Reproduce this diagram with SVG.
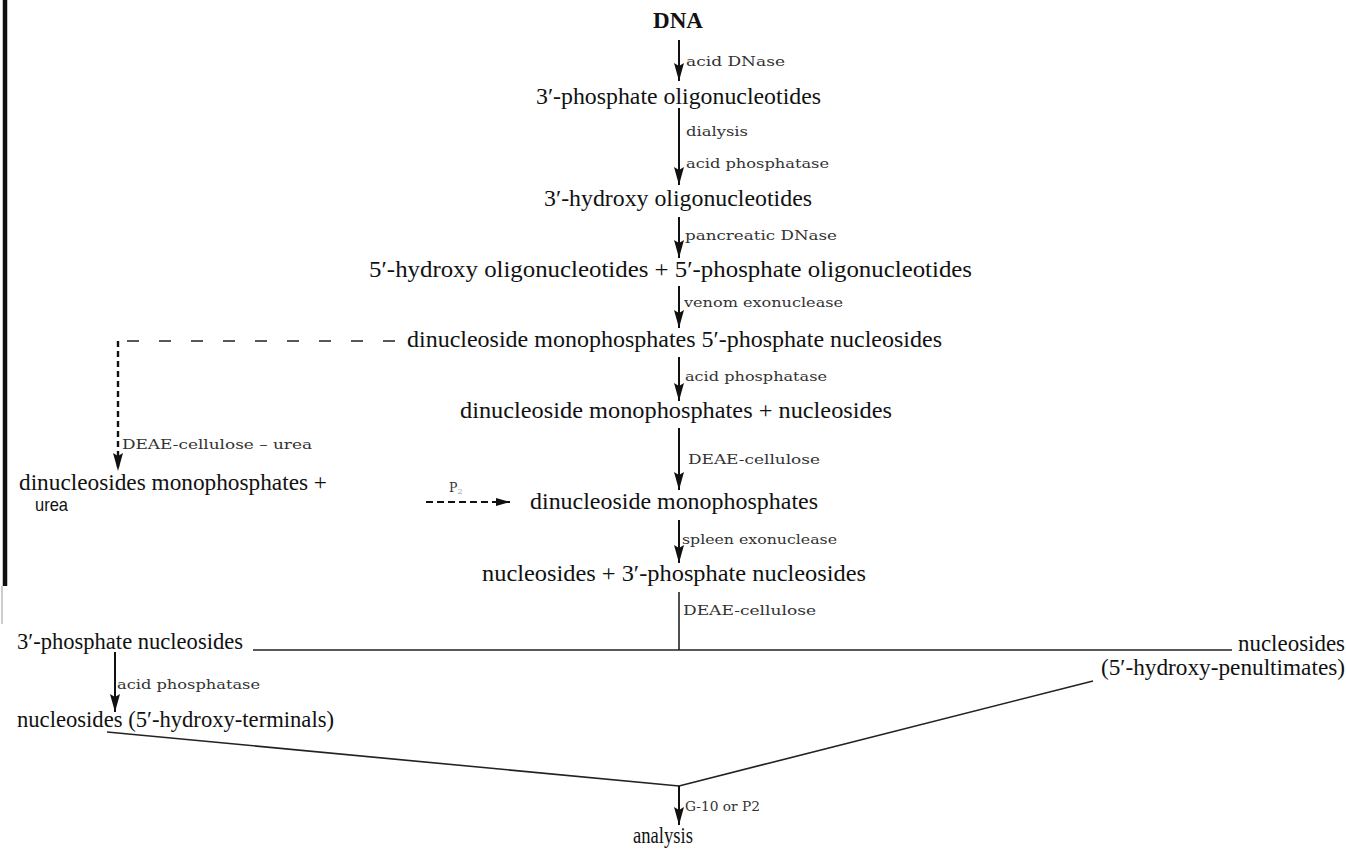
<svg xmlns="http://www.w3.org/2000/svg" width="1346" height="851" viewBox="0 0 1346 851">
<style>
.m{font-family:"Liberation Serif","Times New Roman",serif;font-size:23px;fill:#111;}
.b{font-weight:bold;}
.l{font-family:"DejaVu Serif","Liberation Serif",serif;font-size:12.5px;fill:#333;}
.s{font-family:"Liberation Sans",Arial,sans-serif;font-size:19px;fill:#111;}
.c{stroke:#111;stroke-width:2;fill:none;}
.t{stroke:#222;stroke-width:1.6;fill:none;}
</style>
<defs>
<marker id="ah" markerUnits="userSpaceOnUse" markerWidth="20" markerHeight="12" refX="18" refY="5" orient="auto">
<path d="M0,0 L18,5 L0,10 L3,5 z" fill="#111"/>
</marker>
<marker id="ahs" markerUnits="userSpaceOnUse" markerWidth="16" markerHeight="10" refX="14" refY="4" orient="auto">
<path d="M0,0 L14,4 L0,8 z" fill="#111"/>
</marker>
</defs>
<rect width="1346" height="851" fill="#fff"/>
<line x1="5" y1="0" x2="5" y2="586" stroke="#111" stroke-width="4.5"/>
<line x1="2" y1="586" x2="2" y2="624" stroke="#bbb" stroke-width="1.5"/>

<g id="connectors">
<line class="c" x1="679" y1="40" x2="679" y2="81" marker-end="url(#ah)"/>
<line class="c" x1="679" y1="108" x2="679" y2="185" marker-end="url(#ah)"/>
<line class="c" x1="679" y1="217" x2="679" y2="258" marker-end="url(#ah)"/>
<line class="c" x1="679" y1="286" x2="679" y2="328" marker-end="url(#ah)"/>
<line class="c" x1="679" y1="357" x2="679" y2="401" marker-end="url(#ah)"/>
<line class="c" x1="679" y1="428" x2="679" y2="490" marker-end="url(#ah)"/>
<line class="c" x1="679" y1="520" x2="679" y2="563" marker-end="url(#ah)"/>
<line class="t" x1="679" y1="592" x2="679" y2="650"/>
<line class="t" x1="253" y1="650" x2="1232" y2="650"/>
<line class="c" x1="115" y1="652" x2="115" y2="712" marker-end="url(#ah)"/>
<line class="t" x1="107" y1="732" x2="679" y2="786"/>
<line class="t" x1="1093" y1="681" x2="679" y2="786"/>
<line class="c" x1="679" y1="786" x2="679" y2="825" marker-end="url(#ah)"/>
<line x1="395" y1="341" x2="118" y2="341" stroke="#222" stroke-width="1.6" stroke-dasharray="12,20"/>
<line x1="118" y1="341" x2="118" y2="471" stroke="#111" stroke-width="2.4" stroke-dasharray="6,4" marker-end="url(#ah)"/>
<line x1="426" y1="502" x2="510" y2="502" stroke="#111" stroke-width="1.8" stroke-dasharray="7,4" marker-end="url(#ahs)"/>
<text class="l" x="686" y="66" textLength="99" lengthAdjust="spacingAndGlyphs">acid DNase</text>
<text class="l" x="686" y="136" textLength="62" lengthAdjust="spacingAndGlyphs">dialysis</text>
<text class="l" x="686" y="168" textLength="143" lengthAdjust="spacingAndGlyphs">acid phosphatase</text>
<text class="l" x="685" y="240" textLength="152" lengthAdjust="spacingAndGlyphs">pancreatic DNase</text>
<text class="l" x="684" y="307" textLength="159" lengthAdjust="spacingAndGlyphs">venom exonuclease</text>
<text class="l" x="685" y="381" textLength="142" lengthAdjust="spacingAndGlyphs">acid phosphatase</text>
<text class="l" x="688" y="464" textLength="132" lengthAdjust="spacingAndGlyphs">DEAE-cellulose</text>
<text class="l" x="682" y="544" textLength="155" lengthAdjust="spacingAndGlyphs">spleen exonuclease</text>
<text class="l" x="683" y="615" textLength="133" lengthAdjust="spacingAndGlyphs">DEAE-cellulose</text>
<text class="l" x="122" y="449" textLength="190" lengthAdjust="spacingAndGlyphs">DEAE-cellulose – urea</text>
<text class="l" x="117" y="689" textLength="143" lengthAdjust="spacingAndGlyphs">acid phosphatase</text>
<text class="l" x="685" y="811" textLength="75" lengthAdjust="spacingAndGlyphs">G-10 or P2</text>
<text class="l" x="449" y="492">P<tspan font-size="8" dy="2" fill="#999">2</tspan></text>
</g>

<g id="n-dna"><text class="m b" x="653" y="28" textLength="50" lengthAdjust="spacingAndGlyphs" font-size="21">DNA</text></g>
<g id="n-3p-oligo"><text class="m" x="536" y="104" textLength="285" lengthAdjust="spacingAndGlyphs">3′-phosphate oligonucleotides</text></g>
<g id="n-3oh-oligo"><text class="m" x="544" y="206" textLength="268" lengthAdjust="spacingAndGlyphs">3′-hydroxy oligonucleotides</text></g>
<g id="n-5oh-5p-oligo"><text class="m" x="369" y="277" textLength="603" lengthAdjust="spacingAndGlyphs">5′-hydroxy oligonucleotides + 5′-phosphate oligonucleotides</text></g>
<g id="n-dinuc-5p"><text class="m" x="407" y="347" textLength="535" lengthAdjust="spacingAndGlyphs">dinucleoside monophosphates 5′-phosphate nucleosides</text></g>
<g id="n-dinuc-nuc"><text class="m" x="460" y="418" textLength="432" lengthAdjust="spacingAndGlyphs">dinucleoside monophosphates + nucleosides</text></g>
<g id="n-dinuc"><text class="m" x="530" y="509" textLength="288" lengthAdjust="spacingAndGlyphs">dinucleoside monophosphates</text></g>
<g id="n-nuc-3p"><text class="m" x="482" y="581" textLength="384" lengthAdjust="spacingAndGlyphs">nucleosides + 3′-phosphate nucleosides</text></g>
<g id="n-dinuc-urea">
<text class="m" x="19" y="490" textLength="308" lengthAdjust="spacingAndGlyphs">dinucleosides monophosphates +</text>
<text class="s" x="35" y="511" textLength="33" lengthAdjust="spacingAndGlyphs">urea</text>
</g>
<g id="n-3p-nuc"><text class="m" x="17" y="649" textLength="226" lengthAdjust="spacingAndGlyphs">3′-phosphate nucleosides</text></g>
<g id="n-nuc-penult">
<text class="m" x="1238" y="651" textLength="107" lengthAdjust="spacingAndGlyphs">nucleosides</text>
<text class="m" x="1101" y="675" textLength="244" lengthAdjust="spacingAndGlyphs">(5′-hydroxy-penultimates)</text>
</g>
<g id="n-nuc-term"><text class="m" x="17" y="727" textLength="317" lengthAdjust="spacingAndGlyphs">nucleosides (5′-hydroxy-terminals)</text></g>
<g id="n-analysis"><text class="m" x="633" y="843" textLength="60" lengthAdjust="spacingAndGlyphs">analysis</text></g>
</svg>
